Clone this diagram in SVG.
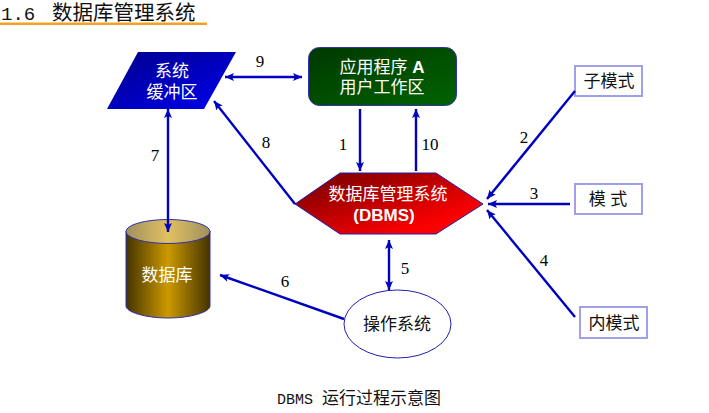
<svg xmlns="http://www.w3.org/2000/svg" width="709" height="413" viewBox="0 0 709 413">
<style>
.c{font-family:"Liberation Sans","Noto Sans CJK SC",sans-serif;font-size:17px;text-anchor:middle}
.w{fill:#fff}
.k{fill:#111}
.n{font-family:"Liberation Serif",serif;font-size:17px;fill:#000;text-anchor:middle}
.m{font-family:"Liberation Mono",monospace;fill:#111}
.h{font-family:"Liberation Mono","Noto Sans CJK SC",monospace;fill:#111}
.l{stroke:#0000c0;stroke-width:2.4;fill:none}
.b{fill:#fff;stroke:#a0a0e8;stroke-width:2}
</style>
<defs>
<marker id="a" markerUnits="userSpaceOnUse" markerWidth="10" markerHeight="8" refX="9" refY="4" orient="auto-start-reverse"><path d="M0 0L9 4L0 8L2 4Z" fill="#0000c0"/></marker>
<linearGradient id="gb" x1="0" y1="0" x2="1" y2="1"><stop offset="0" stop-color="#00008a"/><stop offset="1" stop-color="#0000f0"/></linearGradient>
<linearGradient id="gg" x1="0" y1="0" x2="1" y2="1"><stop offset="0" stop-color="#003800"/><stop offset="1" stop-color="#006400"/></linearGradient>
<linearGradient id="gr" x1="0" y1="0" x2="1" y2="1"><stop offset="0.1" stop-color="#800000"/><stop offset="0.8" stop-color="#ff0000"/></linearGradient>
<linearGradient id="gc" x1="0" y1="0" x2="1" y2="0"><stop offset="0" stop-color="#443300"/><stop offset="0.5" stop-color="#cc9900"/><stop offset="1" stop-color="#443300"/></linearGradient>
<linearGradient id="gt" x1="0" y1="0" x2="1" y2="0"><stop offset="0" stop-color="#a09060"/><stop offset="0.5" stop-color="#e0c060"/><stop offset="1" stop-color="#a09060"/></linearGradient>
</defs>
<g id="title">
<text class="m" x="1" y="20" font-size="19">1.6</text>
<text class="h" x="52" y="20" font-size="20.500">数据库管理系统</text>
<rect x="0" y="22.500" width="207" height="2.500" fill="#f5a020"/>
</g>
<g id="buffer">
<path d="M138 52H236L204 109H107Z" fill="url(#gb)"/>
<text class="c w" x="172" y="77">系统</text>
<text class="c w" x="172" y="98">缓冲区</text>
</g>
<g id="app">
<rect x="308.500" y="47.500" width="148" height="58" rx="11" fill="url(#gg)" stroke="#3030b0"/>
<text class="c w" x="382" y="73">应用程序 <tspan font-weight="bold">A</tspan></text>
<text class="c w" x="382" y="93">用户工作区</text>
</g>
<g id="dbms">
<path d="M295 204L340 173H436L483 204L436 234H340Z" fill="url(#gr)" stroke="#2020b0"/>
<text class="c w" x="388" y="200">数据库管理系统</text>
<text class="c w" x="384" y="221" font-weight="bold">(DBMS)</text>
</g>
<g id="database">
<path d="M126 231V306C126 312 145 318 168 318C191 318 210 312 210 306V231Z" fill="url(#gc)" stroke="#3030b0"/>
<ellipse cx="168" cy="231.500" rx="42" ry="12" fill="url(#gt)" stroke="#3030b0"/>
<text class="c w" x="167" y="281">数据库</text>
</g>
<g id="os">
<ellipse cx="397.500" cy="324" rx="53.500" ry="34" fill="#fff" stroke="#2020b0"/>
<text class="c k" x="397" y="330">操作系统</text>
</g>
<g id="sub">
<rect class="b" x="575" y="66" width="67" height="30"/>
<text class="c k" x="609" y="87">子模式</text>
</g>
<g id="schema">
<rect class="b" x="575" y="184" width="67" height="30"/>
<text class="c k" x="608" y="205">模 式</text>
</g>
<g id="internal">
<rect class="b" x="580" y="307" width="67" height="31"/>
<text class="c k" x="614" y="329">内模式</text>
</g>
<g id="connectors">
<path class="l" d="M225 77H302" marker-start="url(#a)" marker-end="url(#a)"/>
<path class="l" d="M360 109V171" marker-end="url(#a)"/>
<path class="l" d="M416 171V109" marker-end="url(#a)"/>
<path class="l" d="M295 204L214 101" marker-end="url(#a)"/>
<path class="l" d="M168 109V232" marker-start="url(#a)" marker-end="url(#a)"/>
<path class="l" d="M389 240V290" marker-start="url(#a)" marker-end="url(#a)"/>
<path class="l" d="M344 319L220 275" marker-end="url(#a)"/>
<path class="l" d="M575 91L487 199" marker-end="url(#a)"/>
<path class="l" d="M570 204H488" marker-end="url(#a)"/>
<path class="l" d="M575 317L487 210" marker-end="url(#a)"/>
</g>
<g id="labels">
<text class="n" x="260" y="67">9</text>
<text class="n" x="343" y="150">1</text>
<text class="n" x="430" y="150">10</text>
<text class="n" x="266" y="148">8</text>
<text class="n" x="155" y="161">7</text>
<text class="n" x="524" y="143">2</text>
<text class="n" x="534" y="199">3</text>
<text class="n" x="544" y="266">4</text>
<text class="n" x="405" y="274">5</text>
<text class="n" x="285" y="287">6</text>
</g>
<g id="caption">
<text class="m" x="277" y="404" font-size="15">DBMS</text>
<text class="h" x="322" y="404" font-size="17">运行过程示意图</text>
</g>
</svg>
